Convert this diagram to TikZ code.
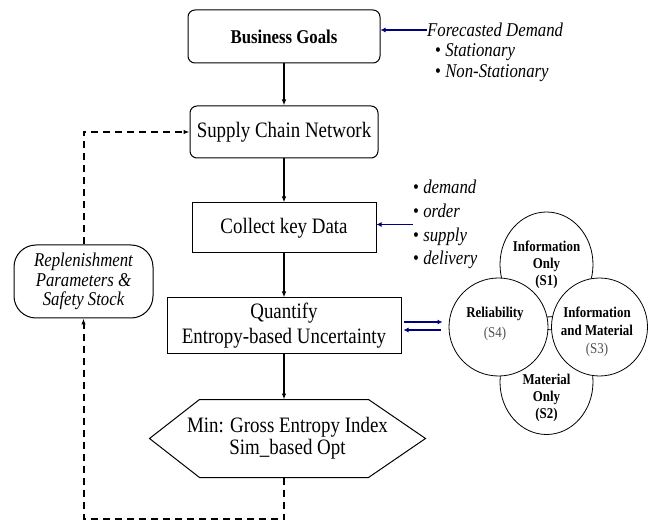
\documentclass[tikz,border=0pt]{standalone}
\usepackage{fontspec}
\setmainfont{Liberation Serif}[FakeStretch=0.86]
\usetikzlibrary{positioning, arrows.meta, shapes.geometric}
\definecolor{arrowNavy}{HTML}{000080}
\definecolor{labelGray}{HTML}{505050}

\begin{document}
\begin{tikzpicture}[
    x=1pt, y=-1pt,
    >={Latex[length=6pt,width=4.5pt]},
    node distance=44pt,
    stepBox/.style={draw, line width=1pt, inner sep=0pt, align=center, font=\fontsize{22}{25}\selectfont},
    flowArrow/.style={->, line width=1.1pt},
    feedArrow/.style={->, line width=2pt, dash pattern=on 7pt off 5pt},
    navyArrow/.style={-{Latex[length=5pt,width=5pt]}, draw=arrowNavy, line width=1.8pt},
    noteText/.style={align=left, inner sep=0pt, font=\fontsize{19.5}{21.5}\selectfont},
    blobShape/.style={draw, ellipse, fill=white, line width=0.8pt, inner sep=0pt},
    blobText/.style={align=center, inner sep=0pt, font=\bfseries\fontsize{15}{17}\selectfont}
]
    \useasboundingbox (0,0) rectangle (648,521);

    % main chain
    \node[stepBox, rounded corners=7pt, minimum width=192pt, minimum height=53pt, font=\bfseries\fontsize{19.5}{20}\selectfont] (goals) at (284,36.5) {Business Goals};
    \node[stepBox, rounded corners=7pt, minimum width=188pt, minimum height=52pt, below=42pt of goals] (network) {Supply Chain Network};
    \node[stepBox, minimum width=184pt, minimum height=50pt, below=of network] (collect) {Collect key Data};
    \node[stepBox, minimum width=234pt, minimum height=55pt, below=of collect] (quantify) {Quantify\\Entropy-based Uncertainty};
    \node[stepBox, draw=none, minimum width=275pt, minimum height=77pt, below=46pt of quantify, xshift=3.5pt, font=\fontsize{22}{22}\selectfont] (minimize) {Min: Gross Entropy Index\\Sim\_based Opt};
    \draw[line width=1pt] (minimize.west) -- ([xshift=50pt]minimize.north west) -- ([xshift=-57pt]minimize.north east)
        -- (minimize.east) -- ([xshift=-57pt]minimize.south east) -- ([xshift=50pt]minimize.south west) -- cycle;
    \node[stepBox, rounded corners=22pt, minimum width=139pt, minimum height=73pt, font=\itshape\fontsize{19.5}{19.5}\selectfont] (replenish) at (83.5,281.5) {Replenishment\\Parameters \&\\Safety Stock};

    % side notes
    \node[noteText, anchor=west, font=\itshape\fontsize{19.5}{21.5}\selectfont] (forecast) at (427,30) {Forecasted Demand};
    \node[noteText, anchor=west] (forecastList) at (435,62.5) {\textbullet\ \textit{Stationary}\\\textbullet\ \textit{Non-Stationary}};
    \node[noteText, anchor=west, font=\fontsize{19.5}{23.7}\selectfont] (dataList) at (413,224.5) {\textbullet\ \textit{demand}\\\textbullet\ \textit{order}\\\textbullet\ \textit{supply}\\\textbullet\ \textit{delivery}};

    % uncertainty sources
    \node[blobShape, minimum width=93pt, minimum height=105pt] (s1) at (546.5,264.5) {};
    \node[blobShape, minimum width=93pt, minimum height=105pt] (s2) at (546.5,382) {};
    \node[blobShape, minimum width=99pt, minimum height=98pt] (s4) at (498.5,327) {};
    \node[blobShape, minimum width=96pt, minimum height=98pt] (s3) at (599.5,327) {};
    \node[blobText] (s1Label) at (s1) {Information\\Only\\(S1)};
    \node[blobText] (s2Label) at ([yshift=-16pt]s2) {Material\\Only\\(S2)};
    \node[blobText, font=\bfseries\fontsize{15}{20}\selectfont] (s4Label) at ([shift={(-3.5pt,3pt)}]s4) {Reliability\\\textcolor{labelGray}{\mdseries (S4)}};
    \node[blobText, font=\bfseries\fontsize{15}{18}\selectfont] (s3Label) at ([shift={(-2.5pt,-4.5pt)}]s3) {Information\\and Material\\\textcolor{labelGray}{\mdseries (S3)}};

    \draw[flowArrow] (goals) -- (network);
    \draw[flowArrow] (network) -- (collect);
    \draw[flowArrow] (collect) -- (quantify);
    \draw[flowArrow] (quantify) -- (quantify |- minimize.north);

    \draw[navyArrow] (forecast.west) -- (forecast.west -| goals.east);
    \draw[navyArrow] (dataList.west) -- (dataList.west -| collect.east);
    \draw[navyArrow] ([shift={(2pt,3.5pt)}]quantify.east) -- ++(39,0);
    \draw[navyArrow] ([shift={(39pt,-4.5pt)}]quantify.east) -- ++(-37,0);

    % feedback loop
    \coordinate (loopCorner) at (83.5,519);
    \draw[feedArrow] (quantify |- minimize.south) |- (loopCorner) -- (replenish.south);
    \draw[feedArrow] (replenish.north) |- (network.west);
\end{tikzpicture}
\end{document}
